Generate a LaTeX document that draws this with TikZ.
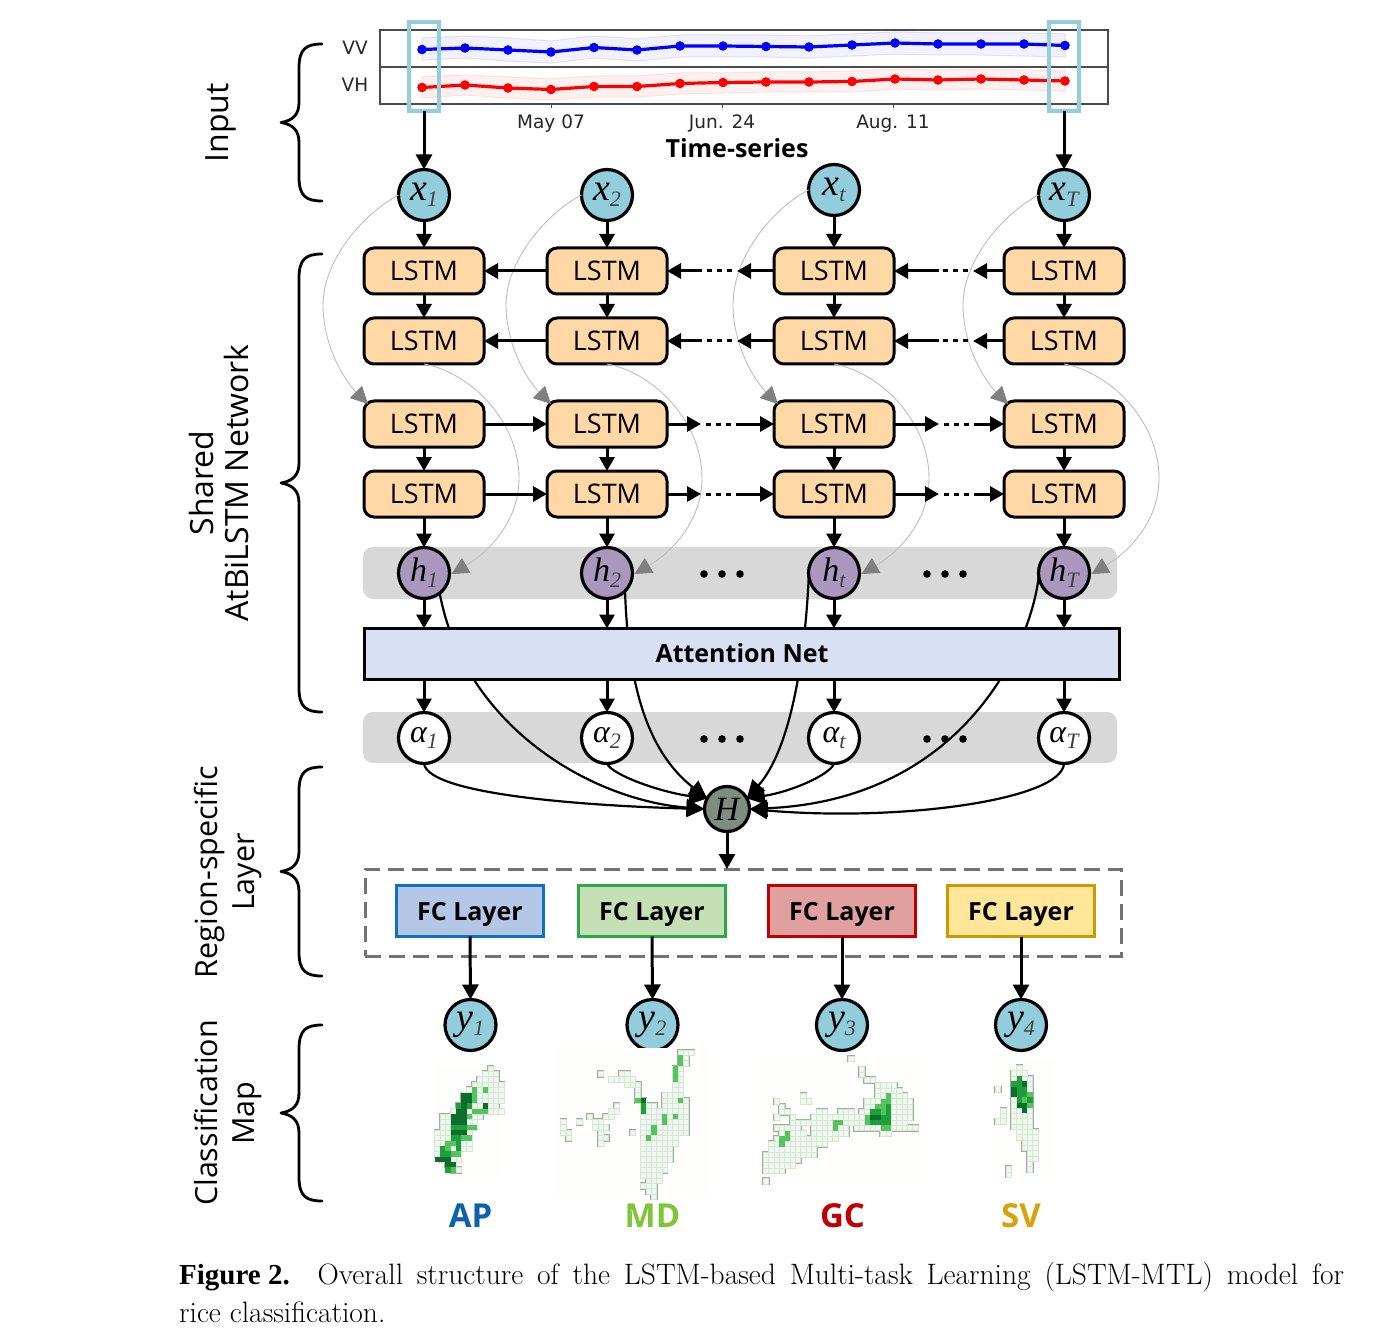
\documentclass[tikz,border=0pt]{standalone}
\usepackage{fontspec}
\usetikzlibrary{arrows.meta,calc}
\newfontfamily\osans{Open Sans}
\newfontfamily\dvsans{DejaVu Sans}
\newfontfamily\symf{Liberation Serif}
\definecolor{cyanbox}{HTML}{92CEDC}
\definecolor{nodeblue}{HTML}{92CDDC}
\definecolor{orangebox}{HTML}{FFD8A6}
\definecolor{purp}{HTML}{A997BE}
\definecolor{bandgrey}{HTML}{D8D8D8}
\definecolor{attn}{HTML}{DAE0F3}
\definecolor{hgrey}{HTML}{7F8C80}
\definecolor{lg}{HTML}{55C45F}
\definecolor{mg}{HTML}{1F9E3C}
\definecolor{dg}{HTML}{0B6E2B}
\definecolor{cellf}{HTML}{F1F8F0}
\definecolor{celll}{HTML}{D6E6D6}
\definecolor{cello}{HTML}{A4ACA4}
\definecolor{mapbg}{HTML}{FEFEFC}
\definecolor{fcAd}{HTML}{0F6FC0}
\definecolor{fcAf}{HTML}{B4C7E7}
\definecolor{fcBd}{HTML}{2CA84A}
\definecolor{fcBf}{HTML}{C5E0B4}
\definecolor{fcCd}{HTML}{C00000}
\definecolor{fcCf}{HTML}{E0A0A0}
\definecolor{fcDd}{HTML}{CC9900}
\definecolor{fcDf}{HTML}{FFE699}
\definecolor{labA}{HTML}{0B62A8}
\definecolor{labB}{HTML}{7EC636}
\definecolor{labC}{HTML}{C00000}
\definecolor{labD}{HTML}{DAA20A}
\newcommand{\symb}[3]{{\symf\itshape\fontsize{#3}{#3}\selectfont #1\fontsize{22}{22}\selectfont\color{black!75}\raisebox{-6pt}{#2}}}
\newcommand{\sidebrace}[2]{%
  \draw[line width=2.8pt,line cap=round,line join=round] (322,#1) .. controls (306,#1) and (299,{#1+5}) .. (299,{#1+24})
    -- (299,{(#1+#2)/2-20}) .. controls (299,{(#1+#2)/2-8}) and (293,{(#1+#2)/2-2}) .. (281,{(#1+#2)/2})
    .. controls (293,{(#1+#2)/2+2}) and (299,{(#1+#2)/2+8}) .. (299,{(#1+#2)/2+20})
    -- (299,{#2-24}) .. controls (299,{#2-5}) and (306,#2) .. (322,#2);}
\newcommand{\ricemap}[4]{%
  \foreach \rr/\aa/\bb in {#3}
    \draw[cello,line width=2.2pt] ({#1+\aa*5.33},{#2+\rr*5.33}) rectangle ({#1+(\bb+1)*5.33},{#2+(\rr+1)*5.33});
  \foreach \rr/\aa/\bb in {#3}
    \foreach \cc in {\aa,...,\bb}
      \fill[cellf] ({#1+\cc*5.33},{#2+\rr*5.33}) rectangle ({#1+(\cc+1)*5.33},{#2+(\rr+1)*5.33});
  \foreach \rr/\aa/\bb in {#3}
    \foreach \cc in {\aa,...,\bb}
      \draw[celll,line width=0.5pt] ({#1+\cc*5.33},{#2+\rr*5.33}) rectangle ({#1+(\cc+1)*5.33},{#2+(\rr+1)*5.33});
  \foreach \rr/\aa/\bb/\kk in {#4}
    \fill[\kk] ({#1+\aa*5.33},{#2+\rr*5.33}) rectangle ({#1+(\bb+1)*5.33},{#2+(\rr+1)*5.33});
}
\tikzset{
  x=1pt,y=-1pt,
  arr/.style={line width=3pt,-{Triangle[length=15pt,width=16pt]}},
  arrs/.style={line width=3pt,-{Triangle[length=14pt,width=15pt]}},
  dotline/.style={line width=3pt,dash pattern=on 0pt off 5pt on 5pt off 5pt on 5pt off 5pt on 5pt off 20pt},
  curve/.style={line width=2.2pt,-{Triangle[length=18pt,width=17pt]}},
  thin grey/.style={draw=black!25,line width=0.9pt,-{Triangle[length=17pt,width=17pt,color=black!50]}},
  circ/.style={circle,draw=black,line width=3.2pt,inner sep=0pt,outer sep=0pt,minimum size=51pt},
  xnode/.style={circ,fill=nodeblue},
  hnode/.style={circ,fill=purp},
  anode/.style={circ,fill=white},
  ynode/.style={circ,fill=nodeblue},
  lstm/.style={draw=black,line width=3pt,fill=orangebox,rounded corners=10pt,outer sep=0pt,minimum width=120pt,minimum height=46pt,inner sep=0pt,font=\osans\fontsize{27}{27}\selectfont},
  fcbox/.style={line width=3pt,outer sep=0pt,minimum width=147pt,minimum height=51pt,inner sep=0pt,font=\osans\bfseries\fontsize{25}{25}\selectfont},
  band/.style={fill=bandgrey,rounded corners=10pt},
  side/.style={rotate=90,align=center,font=\osans\fontsize{32}{35}\selectfont},
  sideb/.style={rotate=90,align=center,font=\osans\fontsize{30.5}{37}\selectfont},
  maplabel/.style={font=\osans\bfseries\fontsize{33}{33}\selectfont},
  ticklab/.style={font=\dvsans\fontsize{18.5}{18.5}\selectfont,text=black!85},
}
\begin{document}
\begin{tikzpicture}
\useasboundingbox (0,0) rectangle (1393,1340);
\fill[white] (0,0) rectangle (1393,1340);

% ---- Input chart
\filldraw[fill=blue!5,draw=blue!13,line width=1pt] (422,38) -- (465,36) -- (508,38) -- (551,41) -- (594,36) -- (637,39) -- (680,35) -- (723,35) -- (766,35) -- (809,36) -- (852,34) -- (895,32) -- (938,33) -- (981,33) -- (1024,33) -- (1065,34)
  -- (1065,57) -- (1024,56) -- (981,55) -- (938,55) -- (895,54) -- (852,56) -- (809,58) -- (766,57) -- (723,57) -- (680,57) -- (637,61) -- (594,58) -- (551,63) -- (508,61) -- (465,58) -- (422,60) -- cycle;
\filldraw[fill=red!6,draw=red!13,line width=1pt] (422,77) -- (465,75) -- (508,77) -- (551,79) -- (594,76) -- (637,76) -- (680,73) -- (723,73) -- (766,72) -- (809,72) -- (852,71) -- (895,69) -- (938,70) -- (981,69) -- (1024,70) -- (1065,71)
  -- (1065,91) -- (1024,90) -- (981,89) -- (938,90) -- (895,89) -- (852,92) -- (809,92) -- (766,92) -- (723,93) -- (680,94) -- (637,97) -- (594,97) -- (551,100) -- (508,98) -- (465,95) -- (422,98) -- cycle;
\draw[black!70,line width=1.4pt] (380,30) rectangle (1108,104);
\draw[black!70,line width=1.2pt] (380,67) -- (1108,67);
\foreach \tx in {551,722,893} \draw[black!70,line width=1pt] (\tx,104) -- (\tx,108);
\draw[blue,line width=3.2pt] (422,49.5) -- (465,48) -- (508,50) -- (551,52) -- (594,47.5) -- (637,50) -- (680,46) -- (723,46) -- (766,46.5) -- (809,47) -- (852,45) -- (895,43) -- (938,44) -- (981,44) -- (1024,44) -- (1065,45.5);
\foreach \px/\py in {422/49.5,465/48,508/50,551/52,594/47.5,637/50,680/46,723/46,766/46.5,809/47,852/45,895/43,938/44,981/44,1024/44,1065/45.5}
  \fill[blue] (\px,\py) circle (4.8);
\draw[red,line width=3.2pt] (422,87.5) -- (465,85) -- (508,88) -- (551,89.5) -- (594,86.5) -- (637,86.5) -- (680,83.5) -- (723,82.5) -- (766,82) -- (809,82) -- (852,81.5) -- (895,79) -- (938,80) -- (981,79) -- (1024,80) -- (1065,81);
\foreach \px/\py in {422/87.5,465/85,508/88,551/89.5,594/86.5,637/86.5,680/83.5,723/82.5,766/82,809/82,852/81.5,895/79,938/80,981/79,1024/80,1065/81}
  \fill[red] (\px,\py) circle (4.8);
\node[draw=cyanbox,line width=3.2pt,minimum width=30pt,minimum height=89pt,inner sep=0pt,outer sep=0pt] (b1) at (424,66.5) {};
\node[draw=cyanbox,line width=3.2pt,minimum width=30pt,minimum height=89pt,inner sep=0pt,outer sep=0pt] (b2) at (1064,66.5) {};
\node[ticklab] (vv) at (355,47.5) {VV};
\node[ticklab] (vh) at (355,84.5) {VH};
\node[ticklab] (t1) at (551,123.5) {May 07};
\node[ticklab] (t2) at (722,123.5) {Jun. 24};
\node[ticklab] (t3) at (893,123.5) {Aug. 11};
\node[font=\osans\bfseries\fontsize{25}{25}\selectfont] (ts) at (737,148) {Time-series};

% ---- bands
\path[band] (363,547) rectangle (1117,599);
\path[band] (363,712) rectangle (1117,763);
\foreach \dx in {722,945} \foreach \dy in {574,739} {
  \fill ({\dx-18},\dy) circle (3.8); \fill (\dx,\dy) circle (3.8); \fill ({\dx+18},\dy) circle (3.8);
}

% ---- nodes
\node[xnode] (X1) at (424,195) {\symb{x}{1}{38}};
\node[xnode] (X2) at (607,195) {\symb{x}{2}{38}};
\node[xnode] (Xt) at (834,190) {\symb{x}{t}{38}};
\node[xnode] (XT) at (1064,195) {\symb{x}{T}{38}};
\node[hnode] (H1) at (424,573) {\symb{h}{1}{34}};
\node[hnode] (H2) at (607,573) {\symb{h}{2}{34}};
\node[hnode] (Ht) at (834,573) {\symb{h}{t}{34}};
\node[hnode] (HT) at (1064,573) {\symb{h}{T}{34}};
\node[anode] (A1) at (424,738) {\symb{α}{1}{32}};
\node[anode] (A2) at (607,738) {\symb{α}{2}{32}};
\node[anode] (At) at (834,738) {\symb{α}{t}{32}};
\node[anode] (AT) at (1064,738) {\symb{α}{T}{32}};
\node[circ,fill=hgrey,minimum size=45pt] (H) at (727,809) {\symf\itshape\fontsize{34}{34}\selectfont H};
\foreach \i/\cx in {1/424,2/607,t/834,T/1064} {
  \node[lstm] (La\i) at (\cx,271) {LSTM};
  \node[lstm] (Lb\i) at (\cx,341) {LSTM};
  \node[lstm] (Lc\i) at (\cx,424) {LSTM};
  \node[lstm] (Ld\i) at (\cx,494) {LSTM};
}

% ---- thin grey skip connections
\foreach \i/\cx/\sy in {1/424/195,2/607/195,t/834/190,T/1064/195} {
  \draw[thin grey] (X\i.west) .. controls ({\cx-60},{\sy+18}) and ({\cx-101},{\sy+65}) .. ({\cx-101},305)
     .. controls ({\cx-101},345) and ({\cx-80},380) .. ([shift={(4,3)}]Lc\i.north west);
  \draw[thin grey] (Lb\i.south) .. controls ({\cx+45},372) and ({\cx+95},420) .. ({\cx+95},478)
     .. controls ({\cx+95},525) and ({\cx+60},555) .. ([shift={(2,1)}]H\i.east);
}

% ---- attention box
\draw[curve] (H1.-52) .. controls (464,725) and (590,800) .. (H.west);
\draw[curve] (H2.-45) .. controls (628,680) and (645,750) .. (H.152);
\draw[curve] (Ht.188) .. controls (805,660) and (790,750) .. (H.28);
\draw[curve] (HT.188) .. controls (1030,650) and (960,800) .. (H.east);
\node[draw=black,line width=3pt,fill=attn,outer sep=0pt,minimum width=755pt,minimum height=51pt,inner sep=0pt,font=\osans\bfseries\fontsize{25}{25}\selectfont] (att) at (742,654) {\raisebox{1pt}{Attention Net}};

% ---- vertical arrows
\draw[arr] (b1.south) -- (X1.north);
\draw[arr] (b2.south) -- (XT.north);
\foreach \i in {1,2,t,T} {
  \draw[arrs] (X\i.south) -- (La\i.north);
  \draw[arrs] (La\i.south) -- (Lb\i.north);
  \draw[arrs] (Lc\i.south) -- (Ld\i.north);
  \draw[arrs] (Ld\i.south) -- (H\i.north);
  \draw[arrs] (H\i.south) -- (H\i.south |- att.north);
  \draw[arrs] (A\i.north |- att.south) -- (A\i.north);
}

% ---- horizontal arrows, backward
\foreach \rw/\yy in {a/271,b/341} {
  \draw[arrs] (L\rw2.west) -- (L\rw1.east);
  \coordinate (c1\rw) at (737,\yy); \coordinate (c2\rw) at (702,\yy);
  \draw[arrs] (L\rw t.west) -- (c1\rw);
  \draw[dotline] (c1\rw) -- (c2\rw);
  \draw[arrs] (c2\rw) -- (L\rw2.east);
  \coordinate (c3\rw) at (973,\yy); \coordinate (c4\rw) at (939,\yy);
  \draw[arrs] (L\rw T.west) -- (c3\rw);
  \draw[dotline] (c3\rw) -- (c4\rw);
  \draw[arrs] (c4\rw) -- (L\rw t.east);
}
% ---- horizontal arrows, forward
\foreach \rw/\yy in {c/424,d/494} {
  \draw[arrs] (L\rw1.east) -- (L\rw2.west);
  \coordinate (d1\rw) at (701,\yy); \coordinate (d2\rw) at (736,\yy);
  \draw[arrs] (L\rw2.east) -- (d1\rw);
  \draw[dotline] (d1\rw) -- (d2\rw);
  \draw[arrs] (d2\rw) -- (L\rw t.west);
  \coordinate (d3\rw) at (939,\yy); \coordinate (d4\rw) at (974,\yy);
  \draw[arrs] (L\rw t.east) -- (d3\rw);
  \draw[dotline] (d3\rw) -- (d4\rw);
  \draw[arrs] (d4\rw) -- (L\rw T.west);
}

% ---- alpha curves to H
\draw[curve] (A1.south) .. controls (428,795) and (590,806) .. (H.west);
\draw[curve] (A2.south) .. controls (612,775) and (660,792) .. (H.152);
\draw[curve] (At.south) .. controls (830,775) and (790,792) .. (H.28);
\draw[curve] (AT.south) .. controls (1062,800) and (900,822) .. (H.east);

% ---- region specific
\node[draw=black!55,dash pattern=on 16pt off 8pt,line width=3pt,outer sep=0pt,minimum width=756pt,minimum height=87pt,inner sep=0pt] (dash) at (743,912.5) {};
\draw[arr] (H.south) -- (H.south |- dash.north);
\node[fcbox,draw=fcAd,fill=fcAf] (F1) at (470,911) {\raisebox{0pt}[19pt][0pt]{FC Layer}};
\node[fcbox,draw=fcBd,fill=fcBf] (F2) at (652,911) {\raisebox{0pt}[19pt][0pt]{FC Layer}};
\node[fcbox,draw=fcCd,fill=fcCf] (F3) at (842,911) {\raisebox{0pt}[19pt][0pt]{FC Layer}};
\node[fcbox,draw=fcDd,fill=fcDf] (F4) at (1021,911) {\raisebox{0pt}[19pt][0pt]{FC Layer}};
\node[ynode] (Y1) at (470.5,1025) {\symb{y}{1}{38}};
\node[ynode] (Y2) at (652.5,1025) {\symb{y}{2}{38}};
\node[ynode] (Y3) at (842,1025) {\symb{y}{3}{38}};
\node[ynode] (Y4) at (1021,1025) {\symb{y}{4}{38}};
\foreach \i in {1,2,3,4} \draw[arr] (F\i.south) -- (Y\i.north);

% ---- maps
\fill[mapbg] (434,1066) rectangle (502,1175);
\fill[mapbg] (555,1048) rectangle (710,1195);
\fill[mapbg] (760,1055) rectangle (920,1185);
\fill[mapbg] (990,1060) rectangle (1055,1175);
\ricemap{434.7}{1066}{0/10/10,1/9/11,2/8/11,3/7/12,4/6/12,5/5/12,6/5/12,7/4/11,8/3/12,9/1/8,10/1/7,11/1/7,12/0/6,13/0/6,14/0/6,15/0/6,16/0/4,17/1/4,18/2/3,19/3/4}
 {4/7/7/lg,5/7/7/lg,4/9/9/lg,5/5/6/dg,6/5/6/dg,6/7/7/lg,7/4/6/mg,7/5/5/dg,7/9/9/dg,8/7/9/lg,8/4/5/dg,9/3/5/dg,9/6/6/lg,10/3/5/dg,11/3/5/mg,11/6/7/lg,12/3/5/dg,13/3/4/mg,13/5/6/lg,14/2/3/lg,14/4/4/mg,15/1/1/mg,15/2/2/lg,15/4/4/mg,16/1/2/mg,16/3/4/lg,17/0/2/dg,18/2/3/dg,19/2/2/mg,19/3/3/lg}
\ricemap{560.7}{1050}{0/22/24,1/22/23,2/22/23,3/21/22,4/21/22,4/7/7,4/11/12,5/9/13,5/21/22,6/12/14,6/21/22,7/14/14,7/21/22,8/14/14,8/19/22,9/14/15,9/19/23,10/15/17,10/19/23,10/10/10,11/15/23,11/9/10,12/15/23,12/8/9,12/5/5,13/15/23,13/6/7,13/0/0,13/3/3,14/15/23,14/6/8,14/0/0,15/15/23,15/7/7,15/13/13,15/0/1,16/15/21,16/7/8,16/1/1,17/15/21,17/7/7,18/15/20,19/15/20,20/15/20,21/15/19,22/15/19,23/15/18,24/16/18,25/15/17,26/16/17,27/17/17}
 {1/22/22/lg,2/22/22/lg,3/21/21/lg,4/21/21/lg,5/21/21/lg,9/14/14/lg,9/15/15/dg,10/15/15/mg,11/15/15/mg,12/19/19/lg,13/19/19/lg,12/21/21/lg,9/22/22/lg,14/17/17/lg,15/17/17/lg,16/16/16/lg}
\ricemap{763.3}{1056}{0/16/16,2/18/18,3/18/18,4/19/20,5/21/24,6/21/25,7/21/26,7/7/7,8/7/8,8/2/2,8/19/27,9/19/27,9/3/3,10/3/4,10/10/11,10/14/16,10/18/27,11/2/2,11/5/5,11/9/27,12/5/26,13/2/6,13/9/15,13/17/28,14/3/7,14/9/15,14/22/23,15/2/13,16/1/11,17/1/9,18/0/9,19/0/6,20/0/5,21/0/3,23/0/0}
 {15/3/3/lg,16/3/3/lg,14/4/4/lg,15/4/4/lg,12/13/14/lg,13/13/13/lg,7/23/23/lg,8/22/23/lg,9/21/22/lg,9/23/23/mg,10/20/21/mg,10/22/22/lg,10/23/23/mg,11/19/19/lg,11/20/21/dg,11/22/23/mg,12/19/19/lg,12/20/21/mg,12/22/23/mg,13/22/23/lg}
\ricemap{995.3}{1065.3}{0/4/4,1/3/5,2/3/6,3/3/6,4/0/0,4/3/6,5/3/6,6/3/6,7/3/6,8/1/1,8/3/6,9/1/1,9/3/6,10/0/1,10/3/6,11/3/6,12/4/7,13/4/7,14/5/7,15/5/7,16/6/7,17/6/7,18/6/6,19/2/2,19/6/6,20/2/2}
 {2/4/4/mg,3/3/4/mg,3/5/5/dg,4/3/3/dg,4/4/5/mg,5/4/5/mg,5/3/3/dg,6/4/5/mg,6/6/6/mg,5/6/6/lg,7/4/5/dg,7/6/6/lg,8/5/5/dg,6/5/5/lg}

\node[maplabel,text=labA] (mA) at (470.5,1216) {AP};
\node[maplabel,text=labB] (mB) at (652.5,1216) {MD};
\node[maplabel,text=labC] (mC) at (842.5,1216) {GC};
\node[maplabel,text=labD] (mD) at (1021,1216) {SV};

% ---- side braces and labels
\sidebrace{44}{201}
\sidebrace{254}{712}
\sidebrace{767}{976}
\sidebrace{1025}{1201}
\node[side] (s1) at (221,123) {Input};
\node[side] (s2) at (219,483) {Shared\\AtBiLSTM Network};
\node[sideb] (s3) at (228,872) {Region-specific\\Layer};
\node[sideb] (s4) at (228,1113) {Classification\\Map};

% ---- caption
\node[anchor=base west,inner sep=0pt,font=\fontsize{29.5}{29.5}\selectfont] (cap1) at (179,1284)
  {\hbox to 1165pt{{\symf\bfseries\fontsize{29}{29}\selectfont Figure 2.}\hspace{14pt}\hfill Overall\hfill structure\hfill of\hfill the\hfill LSTM-based\hfill Multi-task\hfill Learning\hfill (LSTM-MTL)\hfill model\hfill for}};
\node[anchor=base west,inner sep=0pt,font=\fontsize{29.5}{29.5}\selectfont] (cap2) at (179,1322) {rice classification.};
\end{tikzpicture}
\end{document}
